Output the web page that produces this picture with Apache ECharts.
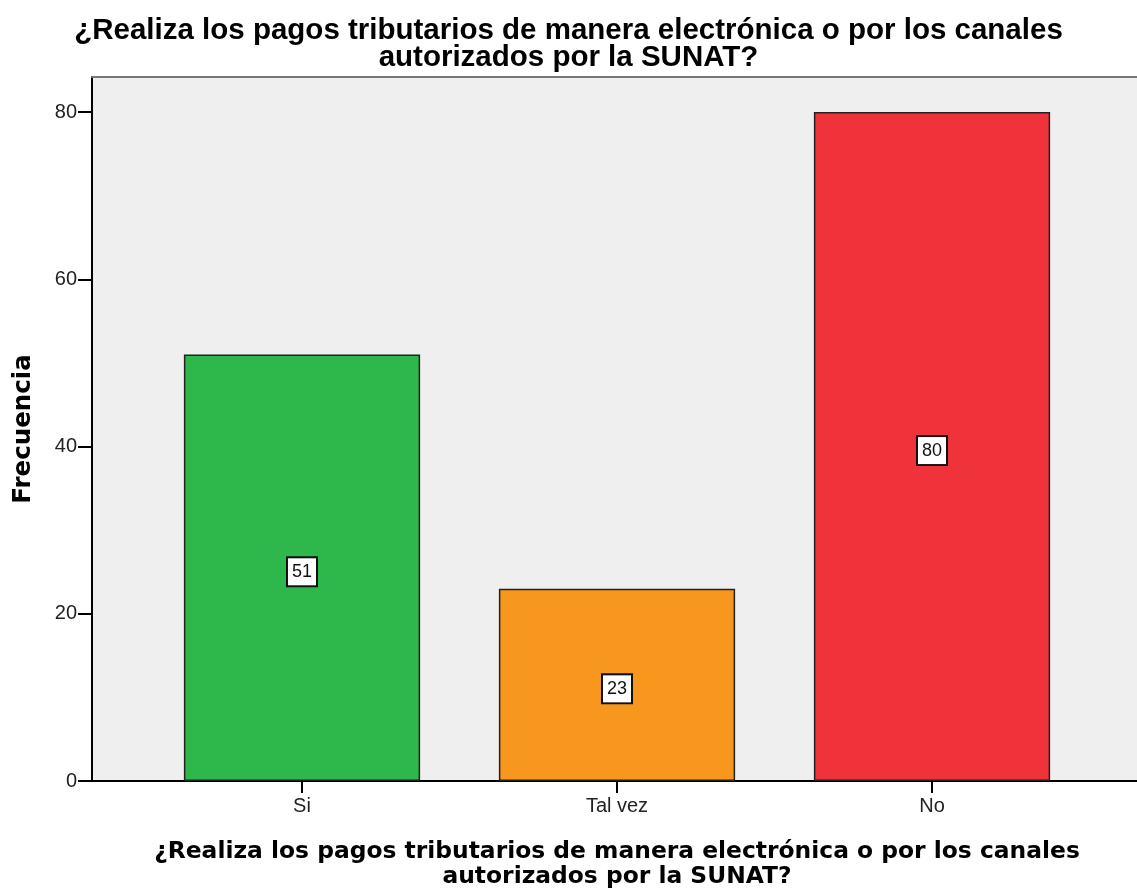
<!DOCTYPE html>
<html>
<head>
<meta charset="utf-8">
<script src="https://cdn.jsdelivr.net/npm/echarts@6/dist/echarts.min.js"></script>
<style>
  html, body { margin: 0; padding: 0; background: #fff; }
  #chart { width: 1137px; height: 893px; }
</style>
</head>
<body>
<div id="chart"></div>
<script>
var chartTitle = '¿Realiza los pagos tributarios de manera electrónica o por los canales\nautorizados por la SUNAT?';
var categories = ['Si', 'Tal vez', 'No'];
var frequencies = [51, 23, 80];
var barColors = ['#2eb84b', '#f7971e', '#f0333a'];
var yTicks = [0, 20, 40, 60, 80];

var font = '"Liberation Sans", Arial, sans-serif';
var wideFont = '"DejaVu Sans", Verdana, sans-serif';

var barData = frequencies.map(function (v, i) {
    return { value: v, itemStyle: { color: barColors[i] } };
});

var chart = echarts.init(document.getElementById('chart'));
chart.setOption({
    animation: false,
    title: {
        text: chartTitle,
        left: 'center',
        top: 12,
        textStyle: { fontFamily: font, fontSize: 29.5, fontWeight: 'bold', color: '#000', lineHeight: 27 }
    },
    grid: [
        // frame / background
        { left: 92, right: 0, top: 77, bottom: 112, show: true, backgroundColor: '#efefef', borderWidth: 0, outerBoundsMode: 'none' },
        // bars
        { left: 144.5, right: 47.5, top: 77, bottom: 112, outerBoundsMode: 'none' }
    ],
    xAxis: [
        {
            gridIndex: 0, type: 'category', data: [''], position: 'bottom',
            axisLine: { lineStyle: { color: '#000', width: 2 } },
            axisTick: { show: false }, axisLabel: { show: false }
        },
        {
            gridIndex: 0, type: 'category', data: [''], position: 'top',
            axisLine: { lineStyle: { color: '#777', width: 2 } },
            axisTick: { show: false }, axisLabel: { show: false }
        },
        {
            gridIndex: 1, type: 'category', data: categories,
            axisLine: { show: false },
            axisTick: { show: true, alignWithLabel: true, length: 12, lineStyle: { color: '#000', width: 2 } },
            axisLabel: { fontFamily: font, fontSize: 20, color: '#222', margin: 15 },
            name: chartTitle,
            nameLocation: 'middle',
            nameGap: 58,
            nameTextStyle: { fontFamily: wideFont, fontSize: 23.4, fontWeight: 'bold', color: '#000', lineHeight: 25 }
        }
    ],
    yAxis: [
        {
            gridIndex: 0, type: 'value', min: 0, max: 84.2, interval: 20,
            axisLine: { show: true, lineStyle: { color: '#000', width: 2 } },
            axisTick: { show: true, length: 14, customValues: yTicks, lineStyle: { color: '#000', width: 2 } },
            axisLabel: { fontFamily: font, fontSize: 20, color: '#222', margin: 15, customValues: yTicks },
            splitLine: { show: false },
            name: 'Frecuencia',
            nameLocation: 'middle',
            nameRotate: 90,
            nameGap: 56,
            nameTextStyle: { fontFamily: wideFont, fontSize: 24.5, fontWeight: 'bold', color: '#000' }
        },
        {
            gridIndex: 1, type: 'value', min: 0, max: 84.2, show: false,
            splitLine: { show: false }
        }
    ],
    series: [
        {
            type: 'bar',
            xAxisIndex: 2,
            yAxisIndex: 1,
            barWidth: '75%',
            data: barData,
            itemStyle: { borderColor: '#222', borderWidth: 1.5 },
            label: {
                show: true,
                position: 'inside',
                offset: [0, 4],
                formatter: '{c}',
                fontFamily: font,
                fontSize: 18,
                color: '#111',
                backgroundColor: '#fff',
                borderColor: '#111',
                borderWidth: 2,
                padding: [5, 4, 4, 4]
            }
        }
    ]
});
</script>
</body>
</html>
